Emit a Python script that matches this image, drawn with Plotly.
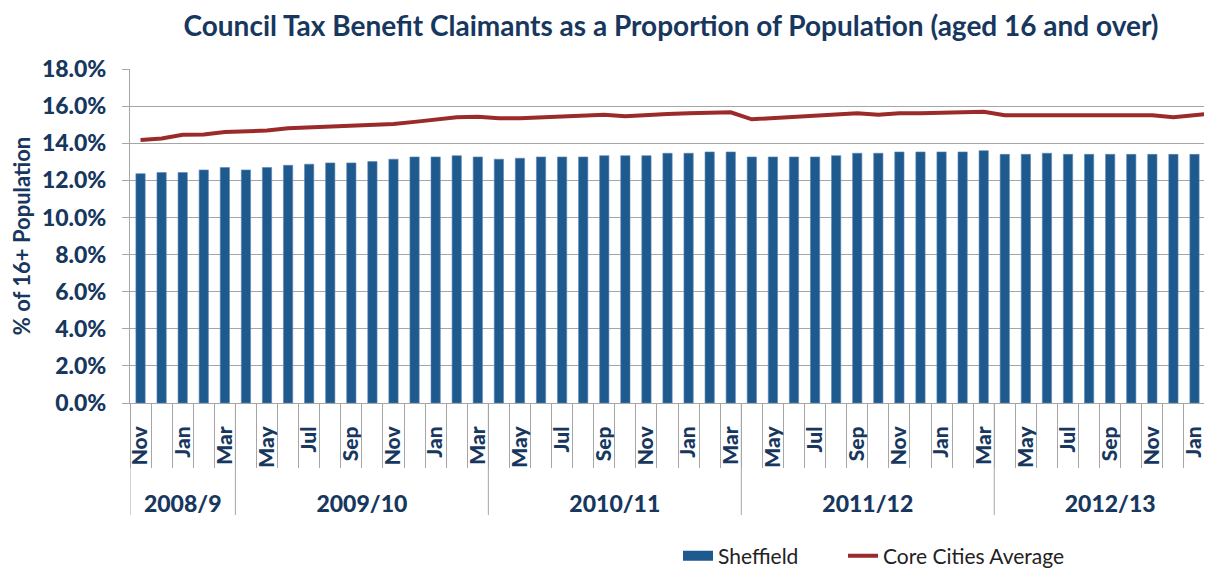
import plotly.graph_objects as go

# ---------------- data ----------------
months = (["Nov", "Dec", "Jan", "Feb", "Mar"]
          + ["Apr", "May", "Jun", "Jul", "Aug", "Sep", "Oct", "Nov", "Dec", "Jan", "Feb", "Mar"] * 3
          + ["Apr", "May", "Jun", "Jul", "Aug", "Sep", "Oct", "Nov", "Dec", "Jan", "Feb"])
fiscal_years = ["2008/9", "2009/10", "2010/11", "2011/12", "2012/13"]
months_per_year = [5, 12, 12, 12, 11]

sheffield = [12.36, 12.42, 12.42, 12.56, 12.69,
             12.56, 12.69, 12.81, 12.87, 12.94, 12.94, 13.01, 13.14, 13.26, 13.26, 13.33, 13.26,
             13.14, 13.19, 13.26, 13.26, 13.26, 13.33, 13.33, 13.33, 13.46, 13.46, 13.53, 13.53,
             13.26, 13.26, 13.26, 13.26, 13.33, 13.46, 13.46, 13.53, 13.53, 13.53, 13.53, 13.60,
             13.40, 13.40, 13.46, 13.40, 13.40, 13.40, 13.40, 13.40, 13.40, 13.40, 13.40]
core_cities = [14.18, 14.25, 14.45, 14.47, 14.61,
               14.63, 14.68, 14.81, 14.86, 14.91, 14.97, 15.02, 15.04, 15.15, 15.27, 15.40, 15.42,
               15.35, 15.35, 15.40, 15.44, 15.45, 15.53, 15.45, 15.53, 15.58, 15.62, 15.67, 15.67,
               15.29, 15.36, 15.44, 15.47, 15.54, 15.62, 15.53, 15.62, 15.62, 15.65, 15.70, 15.70,
               15.51, 15.51, 15.51, 15.51, 15.51, 15.51, 15.51, 15.51, 15.40, 15.51, 15.62]
y_ticks = [0, 2, 4, 6, 8, 10, 12, 14, 16, 18]

# ---------------- derived positions ----------------
n = len(months)
x = list(range(n))
label_idx = x[::2]
label_txt = [months[i] for i in label_idx]
bounds = [i - 0.5 for i in range(n + 1)]
group_starts = [-0.5]
for m in months_per_year:
    group_starts.append(group_starts[-1] + m)
group_centers = [(group_starts[k] + group_starts[k + 1]) / 2 for k in range(len(fiscal_years))]

NAVY = "#17375E"
GRID = "#A6A6A6"
BAR = "#1F5A8F"
FONT = "Lato"
BOLD = "Lato Black"

W, H = 1204, 561          # page body adds an 8px offset
PLOT_TOP, PLOT_BOTTOM = 61, 395
PLOT_H = PLOT_BOTTOM - PLOT_TOP

fig = go.Figure()
fig.add_trace(go.Bar(x=x, y=sheffield, name="Sheffield", width=0.44, showlegend=False,
                     marker=dict(color=BAR, line=dict(width=0.6, color="#5B86B5"))))
fig.add_trace(go.Scatter(x=[None], y=[None], name="Sheffield", mode="lines", legend="legend",
                         line=dict(color=BAR, width=13), hoverinfo="skip"))
fig.add_trace(go.Scatter(x=x, y=core_cities, name="Core Cities Average", mode="lines",
                         legend="legend2", line=dict(color="#9B2A2A", width=4)))
# invisible trace bound to the year-label axis
fig.add_trace(go.Scatter(x=[group_centers[0]], y=[0], xaxis="x2", mode="markers",
                         marker=dict(opacity=0), showlegend=False, hoverinfo="skip"))

legend_common = dict(orientation="h", xanchor="left",
                     y=(PLOT_BOTTOM - 548) / PLOT_H, yanchor="middle",
                     font=dict(size=21, color="#222222", family=FONT),
                     bgcolor="rgba(0,0,0,0)")

xr = [-0.5, 50.83]
fig.update_layout(
    width=W, height=H,
    margin=dict(l=122, r=0, t=PLOT_TOP, b=H - PLOT_BOTTOM, autoexpand=False),
    paper_bgcolor="white", plot_bgcolor="white",
    font=dict(family=FONT, color=NAVY),
    title=dict(text="<b>Council Tax Benefit Claimants as a Proportion of Population (aged 16 and over)</b>",
               x=0.5, xref="paper", xanchor="center", y=1 - 18 / H, yref="container",
               yanchor="middle", font=dict(size=28, color=NAVY, family=FONT)),
    xaxis=dict(range=xr, tickmode="array", tickvals=label_idx, ticktext=label_txt,
               tickangle=-90, ticks="", ticklabelstandoff=14,
               tickfont=dict(size=21, color=NAVY, family=BOLD),
               showgrid=False, zeroline=False, showline=True, linecolor=GRID, linewidth=1,
               minor=dict(tickmode="array", tickvals=bounds, ticks="outside",
                          ticklen=64, tickcolor=GRID, tickwidth=1, showgrid=False)),
    xaxis2=dict(range=xr, overlaying="x", side="bottom", anchor="y", tickmode="array",
                tickvals=group_centers, ticktext=fiscal_years, ticks="", ticklabelstandoff=85,
                tickfont=dict(size=23, color=NAVY, family=BOLD),
                showgrid=False, zeroline=False, showline=False),
    yaxis=dict(range=[0, 18], tickmode="array", tickvals=y_ticks,
               ticktext=[f"{v:.1f}%" for v in y_ticks],
               ticks="outside", ticklen=7, tickcolor=GRID, ticklabelstandoff=11,
               tickfont=dict(size=23, color=NAVY, family=BOLD),
               showgrid=True, gridcolor=GRID, gridwidth=1, zeroline=False,
               showline=True, linecolor=GRID, linewidth=1,
               title=dict(text="<b>% of 16+ Population</b>", standoff=6,
                          font=dict(size=22, color=NAVY, family=FONT))),
    legend=dict(x=(678 - 130) / 1082, **legend_common),
    legend2=dict(x=(843 - 130) / 1082, **legend_common),
    showlegend=True,
)

for xs in group_starts[:-1]:
    fig.add_shape(type="line", xref="x", yref="paper", x0=xs, x1=xs, y0=0,
                  y1=-(507 - PLOT_BOTTOM) / PLOT_H, line=dict(color=GRID, width=1))

fig.write_html("out.html")
